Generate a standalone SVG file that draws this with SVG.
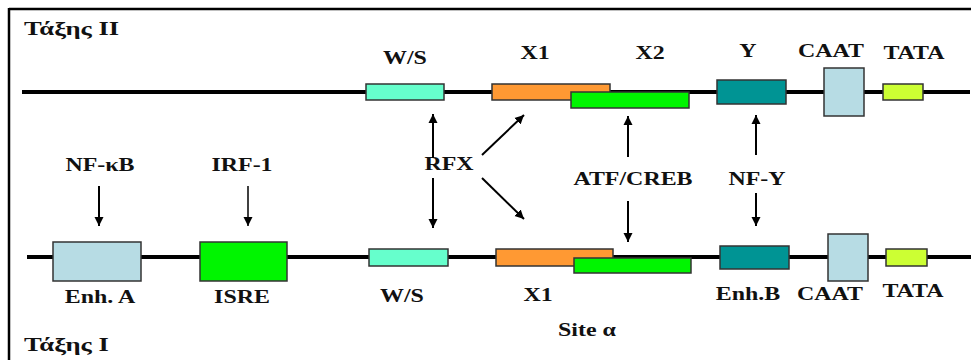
<svg xmlns="http://www.w3.org/2000/svg" width="971" height="360" viewBox="0 0 971 360">
<style>
.t{font-family:"Liberation Serif","Times New Roman",serif;font-weight:bold;font-size:18px;fill:#111;text-anchor:middle}
.ti{font-family:"Liberation Serif","Times New Roman",serif;font-weight:bold;font-size:19px;fill:#111}
.dna{stroke:#000;stroke-width:4;fill:none}
.box{stroke:#333;stroke-width:1.5}
.ws{fill:#66FFCC}.or{fill:#FF9933}.gr{fill:#00F500}.te{fill:#009494}.lb{fill:#B7DCE4}.yl{fill:#CCFF33}
.ar{stroke:#000;stroke-width:2;fill:none;marker-end:url(#ah)}
</style>
<defs>
<marker id="ah" viewBox="0 0 10 10" refX="10" refY="5" markerWidth="9" markerHeight="10" markerUnits="userSpaceOnUse" orient="auto">
<path d="M0,0 L10,5 L0,10 z" fill="#000"/>
</marker>
</defs>
<rect width="971" height="360" fill="#fff"/>
<g id="frame" fill="none" stroke="#000" stroke-width="2.5">
<line x1="9" y1="9" x2="971" y2="9"/>
<line x1="9" y1="8" x2="9" y2="360"/>
</g>
<g id="class2">
<line class="dna" x1="22" y1="92" x2="970" y2="92"/>
<text class="ti" transform="translate(24,35) scale(1.4,1)">Τάξης II</text>
</g>
<g id="class1">
<line class="dna" x1="27" y1="257" x2="971" y2="257"/>
<text class="ti" transform="translate(24,351) scale(1.4,1)">Τάξης I</text>
</g>
<g id="ws-top"><rect class="box ws" x="366" y="84" width="78" height="16"/><text class="t" transform="translate(405,64) scale(1.33,1)">W/S</text></g>
<g id="x1-top"><rect class="box or" x="492" y="84" width="118" height="16"/><text class="t" transform="translate(535,59) scale(1.33,1)">X1</text></g>
<g id="x2-top"><rect class="box gr" x="571" y="92" width="118" height="16"/><text class="t" transform="translate(650,59) scale(1.33,1)">X2</text></g>
<g id="y-top"><rect class="box te" x="717" y="80" width="69" height="24"/><text class="t" transform="translate(748,57) scale(1.33,1)">Y</text></g>
<g id="caat-top"><rect class="box lb" x="824" y="68" width="40" height="48"/><text class="t" transform="translate(831,57) scale(1.33,1)">CAAT</text></g>
<g id="tata-top"><rect class="box yl" x="883" y="84" width="40" height="16"/><text class="t" transform="translate(914,59) scale(1.33,1)">TATA</text></g>
<g id="enha"><rect class="box lb" x="53" y="242" width="88" height="39"/><text class="t" transform="translate(100,303) scale(1.33,1)">Enh. A</text></g>
<g id="isre"><rect class="box gr" x="200" y="242" width="87" height="39"/><text class="t" transform="translate(242,303) scale(1.33,1)">ISRE</text></g>
<g id="ws-bot"><rect class="box ws" x="369" y="249" width="79" height="17"/><text class="t" transform="translate(402,302) scale(1.33,1)">W/S</text></g>
<g id="x1-bot"><rect class="box or" x="496" y="249" width="117" height="17"/><text class="t" transform="translate(538,301) scale(1.33,1)">X1</text></g>
<g id="x2-bot"><rect class="box gr" x="574" y="258" width="117" height="15"/><text class="t" transform="translate(587,336) scale(1.33,1)">Site α</text></g>
<g id="enhb"><rect class="box te" x="720" y="246" width="69" height="23"/><text class="t" transform="translate(748,300) scale(1.33,1)">Enh.B</text></g>
<g id="caat-bot"><rect class="box lb" x="828" y="234" width="40" height="47"/><text class="t" transform="translate(830,300) scale(1.33,1)">CAAT</text></g>
<g id="tata-bot"><rect class="box yl" x="886" y="249" width="41" height="17"/><text class="t" transform="translate(913,297) scale(1.33,1)">TATA</text></g>
<g id="nfkb"><text class="t" transform="translate(100,171) scale(1.33,1)">NF-κB</text></g>
<g id="irf1"><text class="t" transform="translate(242,171) scale(1.33,1)">IRF-1</text></g>
<g id="rfx"><text class="t" transform="translate(449,170) scale(1.33,1)">RFX</text></g>
<g id="atfcreb"><text class="t" transform="translate(633,185) scale(1.33,1)">ATF/CREB</text></g>
<g id="nfy"><text class="t" transform="translate(757,185) scale(1.33,1)">NF-Y</text></g>
<g id="connectors">
<line class="ar" x1="99" y1="186" x2="99" y2="226"/>
<line class="ar" x1="248" y1="186" x2="248" y2="226" style="stroke-width:1.5"/>
<line class="ar" x1="433" y1="158" x2="433" y2="114"/>
<line class="ar" x1="433" y1="178" x2="433" y2="228"/>
<line class="ar" x1="482" y1="155" x2="524" y2="115"/>
<line class="ar" x1="482" y1="178" x2="524" y2="219"/>
<line class="ar" x1="628" y1="157" x2="628" y2="116"/>
<line class="ar" x1="628" y1="201" x2="628" y2="242"/>
<line class="ar" x1="756" y1="155" x2="756" y2="115"/>
<line class="ar" x1="756" y1="193" x2="756" y2="226"/>
</g>
</svg>
